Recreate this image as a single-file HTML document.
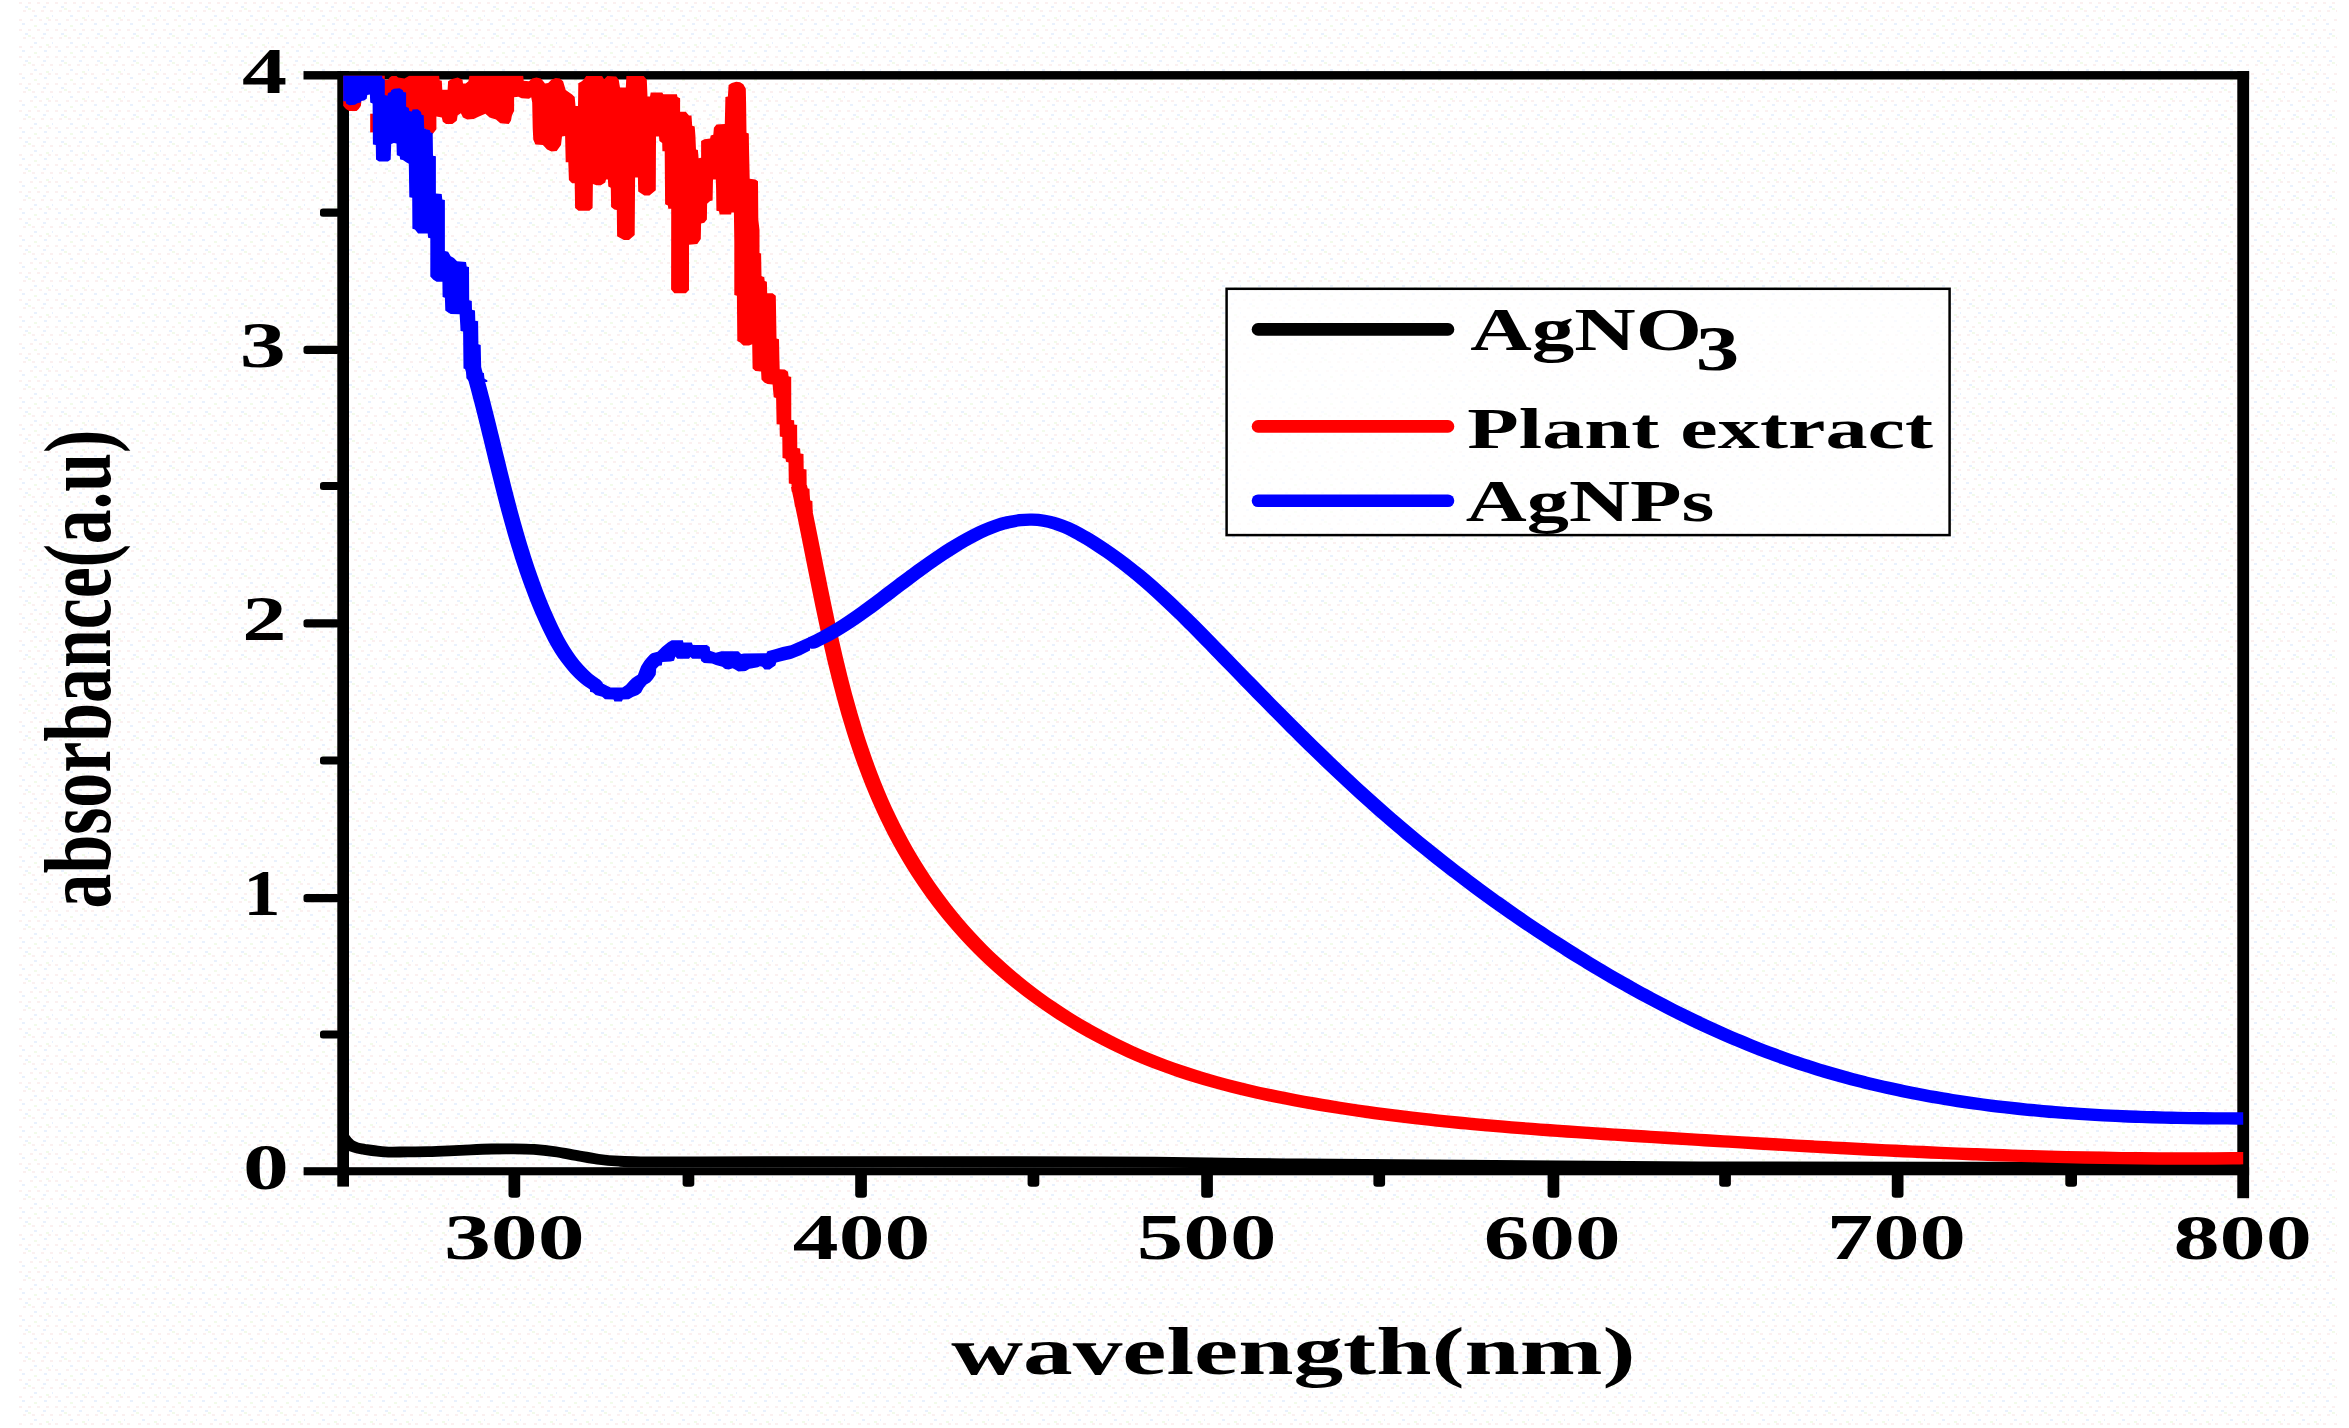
<!DOCTYPE html>
<html lang="en"><head><meta charset="utf-8"><title>UV-Vis absorbance</title>
<style>html,body{margin:0;padding:0;background:#fff}svg{display:block}text{font-family:"Liberation Serif","DejaVu Serif",serif;font-weight:bold;fill:#000}</style>
</head><body>
<svg width="2349" height="1428" viewBox="0 0 2349 1428">
<defs>
<pattern id="dither" x="17" y="0" width="36" height="27" patternUnits="userSpaceOnUse">
<rect x="2" y="2" width="3" height="2" fill="#fbf0f0"/>
<rect x="11" y="2" width="3" height="2" fill="#fbf0f0"/>
<rect x="20" y="2" width="3" height="2" fill="#fbf0f0"/>
<rect x="29" y="2" width="3" height="2" fill="#fbf0f0"/>
<rect x="6" y="10" width="3" height="2" fill="#fbf0f0"/>
<rect x="15" y="10" width="3" height="2" fill="#fbf0f0"/>
<rect x="24" y="10" width="3" height="2" fill="#fbf0f0"/>
<rect x="33" y="10" width="3" height="2" fill="#fbf0f0"/>
<rect x="2" y="19" width="3" height="2" fill="#fbf0f0"/>
<rect x="13" y="19" width="3" height="2" fill="#fbf0f0"/>
<rect x="22" y="19" width="3" height="2" fill="#fbf0f0"/>
<rect x="31" y="19" width="3" height="2" fill="#fbf0f0"/>
<rect x="8" y="6" width="3" height="2" fill="#e9f1fd"/>
<rect x="26" y="6" width="3" height="2" fill="#e9f1fd"/>
<rect x="17" y="15" width="3" height="2" fill="#e9f1fd"/>
<rect x="35" y="15" width="3" height="2" fill="#e9f1fd"/>
<rect x="5" y="23" width="3" height="2" fill="#e9f1fd"/>
<rect x="27" y="23" width="3" height="2" fill="#e9f1fd"/>
<rect x="11" y="8" width="3" height="2" fill="#f2fbea"/>
<rect x="29" y="17" width="3" height="2" fill="#f2fbea"/>
<rect x="17" y="25" width="3" height="2" fill="#f2fbea"/>
</pattern>
<clipPath id="frame"><rect x="343.2" y="75.5" width="1900" height="1101"/></clipPath>
</defs>
<rect width="2349" height="1428" fill="#ffffff"/>
<rect x="17" y="0" width="2320" height="1426" fill="url(#dither)"/>
<g fill="#000">
<rect x="337.3" y="71.1" width="11.7" height="1115.5"/>
<rect x="303.5" y="71.1" width="1945.6" height="8.4"/>
<rect x="2237.3" y="71.1" width="11.8" height="1127.1"/>
<rect x="303.6" y="1167.2" width="1945.5" height="8.1"/>
<rect x="303.5" y="345.7" width="36" height="8.2" rx="3" ry="2.5"/>
<rect x="303.5" y="619.3" width="36" height="8.2" rx="3" ry="2.5"/>
<rect x="303.5" y="894.1" width="36" height="8.2" rx="3" ry="2.5"/>
<rect x="320" y="208.6" width="20" height="8.2" rx="3" ry="2.5"/>
<rect x="320" y="481.9" width="20" height="8.2" rx="3" ry="2.5"/>
<rect x="320" y="756.4" width="20" height="8.2" rx="3" ry="2.5"/>
<rect x="320" y="1030.4" width="20" height="8.2" rx="3" ry="2.5"/>
<rect x="508.5" y="1171" width="11.7" height="26.8" rx="3.5" ry="3"/>
<rect x="855.2" y="1171" width="11.7" height="26.8" rx="3.5" ry="3"/>
<rect x="1201.2" y="1171" width="11.7" height="26.8" rx="3.5" ry="3"/>
<rect x="1547.6" y="1171" width="11.7" height="26.8" rx="3.5" ry="3"/>
<rect x="1891.8" y="1171" width="11.7" height="26.8" rx="3.5" ry="3"/>
<rect x="682.6" y="1171" width="11.7" height="15.7" rx="3.5" ry="3"/>
<rect x="1027.6" y="1171" width="11.7" height="15.7" rx="3.5" ry="3"/>
<rect x="1373.4" y="1171" width="11.7" height="15.7" rx="3.5" ry="3"/>
<rect x="1719.2" y="1171" width="11.7" height="15.7" rx="3.5" ry="3"/>
<rect x="2065.3" y="1171" width="11.7" height="15.7" rx="3.5" ry="3"/>
</g>
<g clip-path="url(#frame)">
<path transform="scale(1.3,1)" d="M261.54,1131.00C261.95,1132.17 262.85,1135.78 264.00,1138.00C265.15,1140.22 266.82,1142.70 268.46,1144.30C270.10,1145.90 271.94,1146.78 273.85,1147.60C275.76,1148.42 276.19,1148.48 279.92,1149.20C283.65,1149.92 290.78,1151.45 296.23,1151.90C301.68,1152.35 307.15,1151.93 312.62,1151.90C318.08,1151.87 323.54,1151.87 329.00,1151.70C334.46,1151.53 339.92,1151.22 345.38,1150.90C350.85,1150.58 356.31,1150.12 361.77,1149.80C367.23,1149.48 372.69,1149.17 378.15,1149.00C383.62,1148.83 389.09,1148.73 394.54,1148.80C399.99,1148.87 405.40,1148.92 410.85,1149.40C416.29,1149.88 421.77,1150.67 427.23,1151.70C432.69,1152.73 438.15,1154.35 443.62,1155.60C449.08,1156.85 454.54,1158.27 460.00,1159.20C465.46,1160.13 470.92,1160.77 476.38,1161.20C481.85,1161.63 482.42,1161.70 492.77,1161.80C503.12,1161.90 479.56,1161.80 538.46,1161.80C597.36,1161.80 769.23,1161.43 846.15,1161.80C923.08,1162.17 923.08,1163.17 1000.00,1164.00C1076.92,1164.83 1185.90,1166.30 1307.69,1166.80C1429.49,1167.30 1660.26,1166.97 1730.77,1167.00" fill="none" stroke="#000000" stroke-width="10.8" stroke-linejoin="round" stroke-linecap="butt"/>
<polygon points="343.0,75.5 384.8,75.5 384.8,79.7 388.0,79.7 389.6,77.6 391.7,76.0 396.5,76.0 398.1,77.6 404.5,78.6 409.3,75.8 439.1,75.8 439.6,80.2 441.8,80.8 442.3,89.8 447.6,89.8 448.1,81.3 451.3,79.2 457.7,77.6 462.5,79.7 463.0,83.4 465.7,83.6 468.4,81.3 469.4,75.8 523.2,75.8 523.7,80.8 529.0,81.3 532.2,78.6 536.5,77.6 540.7,78.6 542.9,80.8 545.0,83.6 548.2,82.9 551.4,79.7 555.6,78.1 559.9,78.6 563.1,81.3 565.7,90.0 572.1,94.5 574.7,97.0 575.5,106.0 578.0,106.0 578.3,83.2 581.1,81.7 583.6,79.8 586.2,76.0 602.1,76.0 604.1,79.2 607.3,76.0 616.2,76.6 618.7,79.8 620.0,87.5 625.8,87.5 626.4,76.0 643.7,76.0 646.8,79.8 647.5,96.4 650.0,96.4 650.7,92.6 662.2,92.6 663.4,94.2 676.9,94.2 677.5,97.0 680.1,98.3 680.1,111.7 685.8,111.7 689.0,115.6 691.5,115.6 692.2,125.8 694.7,126.4 695.4,135.4 696.0,149.4 697.9,150.0 698.6,158.3 701.1,157.7 701.1,141.1 704.3,139.2 710.1,138.5 710.7,135.4 713.3,134.7 713.9,127.7 716.5,124.5 724.8,123.9 725.4,97.0 727.9,96.4 728.6,84.9 731.8,83.0 736.2,81.7 740.1,82.3 743.3,84.3 745.8,88.7 746.1,103.4 746.5,132.8 748.8,133.4 749.0,148.1 749.7,178.8 755.4,179.4 758.0,181.3 758.3,219.6 759.5,230.0 759.5,253.0 761.1,253.6 761.5,276.0 764.3,277.3 764.7,281.1 766.9,281.7 767.2,293.2 772.6,293.2 775.8,295.8 776.5,338.6 779.0,339.2 779.4,359.0 779.7,369.2 784.8,369.5 788.0,371.8 788.6,376.2 791.2,376.9 791.3,419.9 794.1,420.3 794.3,424.6 797.1,425.0 797.3,448.1 800.1,448.5 800.5,453.6 803.5,454.1 803.7,469.0 806.5,469.5 806.7,488.2 809.5,488.7 809.9,500.6 812.4,501.1 812.7,512.0 797.9,512.0 797.5,507.0 794.8,506.6 794.5,492.1 791.7,491.7 791.5,484.0 788.8,483.5 788.5,462.6 786.0,461.8 785.5,458.8 782.5,457.9 782.3,437.0 779.8,436.6 779.6,424.6 776.6,424.2 776.1,398.1 773.7,397.3 772.6,384.5 767.5,383.9 764.3,382.6 761.5,379.4 761.1,371.5 755.4,371.1 752.6,368.6 752.2,344.3 749.0,345.6 743.3,345.6 740.1,342.4 737.3,341.1 736.9,295.8 734.3,295.1 734.3,242.0 733.9,212.6 731.5,212.6 731.1,214.5 719.6,214.5 719.0,211.3 716.4,210.7 716.1,189.6 715.8,179.4 713.0,179.4 712.6,200.5 710.1,201.1 707.1,203.7 706.9,219.6 704.3,222.8 701.1,223.5 700.8,238.9 697.3,244.0 689.0,244.7 689.0,290.0 685.8,293.2 674.3,293.2 671.1,289.4 671.2,208.8 668.3,208.8 667.9,205.6 665.1,204.3 664.7,151.3 662.4,151.3 662.2,143.0 659.4,141.1 659.0,136.6 656.0,136.6 655.8,190.3 649.4,195.6 644.3,195.6 638.2,191.5 637.9,177.5 635.1,177.5 634.7,235.0 629.0,240.1 623.9,240.1 620.7,238.2 617.1,236.2 616.8,210.1 614.3,209.4 611.1,206.9 610.8,187.7 608.3,186.4 607.9,179.4 606.0,179.4 605.3,182.6 600.9,185.2 596.4,185.2 592.9,183.9 592.6,208.1 589.4,210.7 578.5,210.7 575.1,208.1 574.7,183.2 572.1,183.2 568.9,180.0 568.3,162.2 565.7,162.2 565.1,136.0 562.0,136.6 561.0,145.1 556.7,151.0 551.4,151.5 547.1,149.4 542.9,145.1 535.4,144.6 533.3,139.8 532.7,128.1 532.2,102.6 531.2,97.2 529.0,98.8 521.6,98.3 518.4,96.7 514.1,97.2 514.1,111.1 512.0,115.3 510.9,120.7 508.8,123.9 500.3,123.3 496.0,119.6 489.6,117.5 485.4,113.7 479.0,116.4 473.7,119.1 467.3,119.6 463.0,117.5 460.9,113.2 457.7,115.3 456.7,120.7 452.4,123.9 446.0,123.9 442.8,121.7 441.8,117.5 436.4,116.4 436.4,129.2 432.7,134.0 428.0,131.0 420.0,125.0 395.0,125.0 380.0,100.0 375.0,92.0 363.0,92.0 361.5,100.0 360.9,105.8 358.7,109.0 356.6,111.1 349.2,111.1 346.0,109.0 343.0,105.8" fill="#ff0000"/>
<rect x="370.2" y="113.7" width="4" height="18.7" fill="#ff0000"/>
<path transform="scale(1.3,1)" d="M614.62,486.00C615.03,488.50 616.25,495.68 617.12,501.01C617.99,506.34 618.93,512.30 619.83,518.00C620.73,523.71 621.62,529.46 622.51,535.24C623.40,541.02 624.29,546.85 625.18,552.70C626.08,558.55 626.97,564.43 627.88,570.34C628.78,576.24 629.69,582.18 630.62,588.13C631.55,594.07 632.48,600.04 633.44,606.02C634.39,612.00 635.36,618.00 636.35,624.00C637.35,630.00 638.36,636.01 639.40,642.02C640.44,648.03 641.50,654.04 642.60,660.05C643.70,666.05 644.82,672.06 645.99,678.05C647.15,684.04 648.34,690.02 649.58,695.99C650.82,701.95 652.09,707.90 653.41,713.83C654.74,719.76 656.10,725.67 657.51,731.54C658.92,737.42 660.38,743.27 661.90,749.09C663.41,754.90 664.98,760.69 666.60,766.43C668.23,772.18 669.91,777.88 671.65,783.54C673.40,789.20 675.20,794.82 677.08,800.38C678.95,805.95 680.89,811.46 682.90,816.92C684.91,822.38 686.99,827.78 689.13,833.13C691.28,838.47 693.50,843.76 695.78,848.99C698.07,854.22 700.42,859.39 702.85,864.50C705.27,869.61 707.76,874.66 710.33,879.64C712.89,884.62 715.53,889.54 718.24,894.38C720.94,899.23 723.72,904.02 726.57,908.73C729.42,913.44 732.34,918.09 735.33,922.66C738.32,927.23 741.38,931.73 744.52,936.15C747.65,940.58 750.86,944.93 754.14,949.20C757.42,953.48 760.77,957.67 764.20,961.79C767.62,965.91 771.11,969.94 774.66,973.90C778.22,977.85 781.84,981.73 785.52,985.52C789.19,989.30 792.93,993.01 796.72,996.63C800.51,1000.24 804.35,1003.77 808.24,1007.21C812.13,1010.65 816.07,1014.00 820.06,1017.26C824.04,1020.52 828.07,1023.69 832.13,1026.76C836.19,1029.83 840.29,1032.81 844.43,1035.69C848.56,1038.57 852.73,1041.36 856.92,1044.04C861.12,1046.72 865.34,1049.31 869.59,1051.79C873.83,1054.27 878.10,1056.65 882.38,1058.93C886.67,1061.22 890.98,1063.39 895.30,1065.48C899.63,1067.58 903.97,1069.57 908.34,1071.49C912.70,1073.40 917.08,1075.23 921.48,1076.98C925.88,1078.73 930.29,1080.40 934.72,1082.01C939.15,1083.62 943.60,1085.15 948.07,1086.62C952.53,1088.09 957.01,1089.50 961.50,1090.85C966.00,1092.21 970.50,1093.50 975.03,1094.75C979.55,1096.00 984.08,1097.19 988.63,1098.35C993.18,1099.51 997.74,1100.62 1002.31,1101.70C1006.88,1102.78 1011.47,1103.82 1016.06,1104.83C1020.66,1105.84 1025.26,1106.82 1029.88,1107.76C1034.49,1108.70 1039.12,1109.61 1043.76,1110.49C1048.39,1111.37 1053.04,1112.22 1057.69,1113.04C1062.34,1113.86 1067.00,1114.65 1071.67,1115.42C1076.33,1116.19 1081.01,1116.92 1085.69,1117.64C1090.37,1118.35 1095.06,1119.04 1099.75,1119.70C1104.45,1120.37 1109.14,1121.01 1113.85,1121.63C1118.55,1122.25 1123.26,1122.85 1127.97,1123.43C1132.68,1124.01 1137.40,1124.57 1142.11,1125.11C1146.83,1125.66 1151.55,1126.18 1156.27,1126.69C1160.99,1127.20 1165.72,1127.70 1170.44,1128.18C1175.17,1128.66 1179.89,1129.12 1184.62,1129.58C1189.35,1130.03 1194.07,1130.47 1198.80,1130.91C1203.52,1131.34 1208.25,1131.76 1212.97,1132.18C1217.69,1132.59 1222.41,1132.99 1227.13,1133.39C1231.84,1133.79 1236.56,1134.19 1241.27,1134.58C1245.98,1134.96 1250.69,1135.35 1255.39,1135.73C1260.10,1136.11 1264.79,1136.49 1269.49,1136.86C1274.18,1137.24 1278.87,1137.62 1283.55,1137.99C1288.23,1138.37 1292.91,1138.74 1297.58,1139.12C1302.26,1139.49 1306.92,1139.86 1311.59,1140.23C1316.25,1140.60 1320.91,1140.97 1325.57,1141.33C1330.22,1141.70 1334.88,1142.06 1339.52,1142.42C1344.17,1142.78 1348.82,1143.14 1353.46,1143.50C1358.10,1143.85 1362.74,1144.20 1367.38,1144.55C1372.02,1144.90 1376.65,1145.25 1381.28,1145.59C1385.92,1145.93 1390.55,1146.26 1395.18,1146.60C1399.80,1146.93 1404.43,1147.26 1409.06,1147.58C1413.68,1147.91 1418.31,1148.23 1422.93,1148.54C1427.56,1148.86 1432.18,1149.17 1436.80,1149.47C1441.43,1149.78 1446.05,1150.08 1450.67,1150.37C1455.29,1150.66 1459.92,1150.95 1464.54,1151.23C1469.16,1151.52 1473.79,1151.79 1478.41,1152.06C1483.04,1152.33 1487.66,1152.59 1492.29,1152.85C1496.92,1153.10 1501.55,1153.35 1506.18,1153.60C1510.81,1153.84 1515.44,1154.07 1520.07,1154.30C1524.71,1154.53 1529.35,1154.74 1533.98,1154.96C1538.62,1155.17 1543.27,1155.37 1547.91,1155.57C1552.56,1155.76 1557.21,1155.95 1561.86,1156.12C1566.51,1156.30 1571.16,1156.47 1575.82,1156.63C1580.48,1156.79 1585.15,1156.94 1589.81,1157.08C1594.48,1157.22 1599.15,1157.35 1603.83,1157.48C1608.51,1157.60 1613.19,1157.71 1617.88,1157.81C1622.57,1157.91 1627.26,1158.00 1631.96,1158.08C1636.65,1158.16 1641.36,1158.23 1646.07,1158.29C1650.78,1158.35 1655.49,1158.40 1660.22,1158.43C1664.94,1158.47 1669.67,1158.49 1674.41,1158.50C1679.14,1158.52 1683.89,1158.52 1688.64,1158.51C1693.39,1158.49 1698.15,1158.47 1702.91,1158.43C1707.68,1158.40 1712.45,1158.35 1717.23,1158.29C1722.02,1158.22 1729.21,1158.10 1731.61,1158.06" fill="none" stroke="#ff0000" stroke-width="12.4" stroke-linejoin="round" stroke-linecap="butt"/>
<polygon points="343.0,75.5 382.2,75.5 382.2,78.1 384.8,79.7 384.8,95.1 387.5,95.7 388.0,93.0 390.7,91.9 391.2,90.3 393.9,88.7 399.7,88.2 402.9,90.3 403.4,91.9 406.1,92.5 406.1,106.8 408.8,107.9 409.3,111.1 412.0,111.6 412.5,109.5 417.8,109.2 421.0,112.1 421.5,114.8 423.7,115.3 424.2,128.1 426.3,129.2 430.0,130.2 430.6,132.4 432.7,132.9 433.0,155.8 435.9,156.3 435.9,193.6 441.7,194.1 442.3,199.4 444.9,200.0 444.9,251.1 448.1,251.7 450.7,256.2 453.9,258.1 457.1,261.3 466.0,261.9 466.7,266.4 469.0,267.0 469.2,300.3 471.8,300.9 472.0,309.8 475.0,310.5 475.3,320.7 478.1,321.3 478.4,344.3 480.7,345.0 481.3,372.4 483.9,373.0 484.5,378.8 487.3,380.3 487.3,382.0 469.8,382.0 466.4,378.2 466.0,369.2 463.5,368.6 463.1,331.5 460.5,330.9 460.3,325.8 459.6,314.3 450.7,314.0 448.1,312.4 445.3,310.5 444.9,297.7 442.6,297.1 442.4,281.7 436.6,281.7 433.4,279.8 430.3,276.6 430.3,238.3 428.1,237.7 427.7,233.5 418.1,233.5 414.9,229.4 412.4,228.7 412.2,197.8 409.3,197.3 408.8,163.8 406.1,162.2 402.9,160.0 400.2,159.5 399.7,156.3 396.8,155.3 396.5,143.5 393.9,143.0 391.2,144.1 390.7,159.5 388.0,161.6 379.0,161.6 376.0,159.5 375.8,145.1 372.9,144.6 372.6,103.6 370.2,102.6 369.9,94.6 367.3,95.1 366.7,98.8 364.1,100.4 361.1,101.0 360.9,102.6 357.9,103.1 355.0,104.7 349.2,105.2 346.0,103.6 346.0,101.5 343.0,101.0" fill="#0000ff"/>
<path transform="scale(1.3,1)" d="M363.29,365.30C363.71,367.24 365.01,373.08 365.85,376.99C366.68,380.91 367.50,384.84 368.32,388.79C369.13,392.73 369.92,396.70 370.71,400.67C371.50,404.64 372.28,408.63 373.06,412.63C373.83,416.62 374.59,420.63 375.36,424.65C376.12,428.67 376.88,432.70 377.63,436.73C378.39,440.76 379.15,444.80 379.90,448.85C380.66,452.89 381.41,456.94 382.18,461.00C382.94,465.05 383.70,469.11 384.47,473.17C385.24,477.22 386.02,481.28 386.81,485.34C387.59,489.40 388.38,493.46 389.19,497.52C390.00,501.57 390.81,505.63 391.65,509.68C392.48,513.72 393.32,517.77 394.18,521.81C395.05,525.85 395.92,529.88 396.82,533.90C397.72,537.93 398.64,541.94 399.58,545.95C400.52,549.96 401.48,553.95 402.46,557.94C403.45,561.92 404.45,565.89 405.49,569.85C406.53,573.81 407.59,577.75 408.68,581.68C409.78,585.61 410.90,589.52 412.06,593.42C413.21,597.31 414.40,601.19 415.62,605.05C416.84,608.91 418.09,612.75 419.39,616.57C420.69,620.38 422.01,624.19 423.40,627.93C424.79,631.68 426.21,635.40 427.72,639.03C429.24,642.66 430.80,646.24 432.47,649.70C434.14,653.15 435.88,656.54 437.74,659.78C439.60,663.01 441.55,666.15 443.64,669.11C445.73,672.08 447.92,674.91 450.27,677.55C452.62,680.19 456.48,683.70 457.73,684.93" fill="none" stroke="#0000ff" stroke-width="12.4" stroke-linejoin="round" stroke-linecap="round"/>
<polygon points="590.0,676.2 592.8,679.0 597.5,681.3 603.1,683.7 610.6,687.4 622.4,687.4 626.1,685.1 629.4,681.3 632.2,678.5 635.0,676.6 637.9,674.8 641.1,666.3 644.4,661.1 647.3,657.4 650.1,654.6 651.9,653.2 657.6,651.8 662.3,647.1 665.1,644.7 667.9,642.4 671.7,640.2 682.9,640.2 683.4,642.4 691.8,642.4 692.8,644.9 706.8,644.9 709.7,647.1 710.1,650.8 715.8,652.7 721.4,651.3 738.3,651.3 741.1,654.1 743.9,653.4 766.4,653.2 767.4,651.3 774.0,649.4 782.4,647.1 790.8,645.2 799.3,641.4 810.0,636.7 810.0,650.4 801.2,655.0 791.8,658.8 783.3,660.7 776.3,662.6 775.4,665.4 772.1,667.7 769.7,669.6 764.6,669.6 762.2,666.8 759.9,666.3 758.0,667.3 749.5,668.7 745.8,671.0 738.3,671.5 735.0,669.6 732.7,668.2 728.9,669.6 725.1,669.1 722.3,666.8 715.8,664.9 712.0,663.5 704.0,663.0 701.2,661.1 700.7,658.8 692.3,658.8 690.4,656.9 689.0,658.8 677.3,658.8 675.4,656.5 674.0,660.7 670.7,661.6 662.3,662.1 661.8,665.4 659.0,665.8 656.2,668.7 655.7,674.8 652.9,679.0 650.1,682.3 646.3,684.6 643.5,687.9 641.1,692.6 637.9,694.9 633.2,696.8 628.9,699.2 622.8,699.6 621.9,701.5 614.4,701.5 613.5,699.6 605.0,699.2 602.2,696.8 595.6,694.9 592.8,692.6 590.0,691.7" fill="#0000ff"/>
<path transform="scale(1.3,1)" d="M625.28,642.64C626.68,641.73 630.94,639.08 633.69,637.18C636.45,635.29 639.14,633.31 641.81,631.27C644.47,629.24 647.09,627.13 649.67,624.98C652.26,622.83 654.81,620.62 657.33,618.38C659.86,616.13 662.35,613.84 664.83,611.53C667.31,609.21 669.76,606.86 672.20,604.50C674.65,602.14 677.07,599.75 679.50,597.36C681.93,594.98 684.35,592.58 686.77,590.19C689.20,587.79 691.62,585.40 694.05,583.01C696.49,580.62 698.93,578.23 701.39,575.85C703.85,573.48 706.32,571.10 708.83,568.75C711.33,566.40 713.85,564.06 716.41,561.74C718.97,559.43 721.55,557.13 724.18,554.86C726.81,552.58 729.47,550.32 732.18,548.12C734.89,545.91 737.65,543.71 740.44,541.61C743.23,539.52 746.06,537.46 748.92,535.55C751.79,533.64 754.69,531.81 757.62,530.16C760.54,528.51 763.50,526.97 766.48,525.65C769.46,524.33 772.47,523.16 775.49,522.25C778.51,521.34 781.56,520.62 784.61,520.19C787.66,519.75 790.74,519.56 793.79,519.65C796.85,519.73 799.91,520.07 802.92,520.70C805.93,521.33 808.92,522.24 811.85,523.40C814.78,524.56 817.66,526.04 820.50,527.65C823.34,529.26 826.13,531.13 828.89,533.05C831.65,534.97 834.36,537.07 837.05,539.17C839.73,541.28 842.38,543.46 845.00,545.68C847.62,547.90 850.21,550.18 852.77,552.50C855.33,554.82 857.86,557.19 860.36,559.61C862.87,562.02 865.35,564.48 867.80,566.98C870.25,569.48 872.68,572.03 875.09,574.60C877.49,577.18 879.87,579.80 882.24,582.44C884.60,585.09 886.94,587.77 889.27,590.48C891.59,593.18 893.90,595.92 896.19,598.68C898.48,601.44 900.75,604.23 903.01,607.04C905.28,609.84 907.52,612.67 909.76,615.52C911.99,618.36 914.21,621.22 916.43,624.09C918.64,626.97 920.85,629.86 923.04,632.75C925.24,635.64 927.43,638.55 929.61,641.46C931.80,644.36 933.98,647.28 936.15,650.19C938.33,653.11 940.50,656.02 942.67,658.94C944.85,661.85 947.02,664.76 949.19,667.66C951.36,670.57 953.53,673.48 955.70,676.38C957.87,679.28 960.04,682.17 962.21,685.07C964.38,687.96 966.55,690.85 968.72,693.73C970.89,696.62 973.06,699.50 975.24,702.37C977.41,705.25 979.59,708.12 981.77,710.98C983.95,713.84 986.13,716.70 988.32,719.56C990.50,722.41 992.69,725.26 994.88,728.10C997.08,730.94 999.27,733.77 1001.47,736.60C1003.67,739.42 1005.87,742.24 1008.08,745.06C1010.29,747.87 1012.51,750.67 1014.73,753.47C1016.95,756.26 1019.17,759.05 1021.40,761.83C1023.63,764.61 1025.87,767.38 1028.11,770.15C1030.36,772.91 1032.61,775.66 1034.87,778.40C1037.12,781.15 1039.39,783.88 1041.66,786.60C1043.94,789.33 1046.22,792.04 1048.51,794.74C1050.80,797.45 1053.10,800.14 1055.40,802.82C1057.71,805.50 1060.03,808.17 1062.36,810.83C1064.68,813.49 1067.02,816.13 1069.36,818.77C1071.71,821.40 1074.06,824.03 1076.43,826.64C1078.79,829.25 1081.17,831.85 1083.55,834.44C1085.93,837.03 1088.33,839.60 1090.73,842.17C1093.13,844.73 1095.54,847.28 1097.96,849.82C1100.38,852.36 1102.81,854.89 1105.24,857.41C1107.68,859.92 1110.13,862.43 1112.58,864.92C1115.04,867.41 1117.50,869.89 1119.98,872.35C1122.45,874.82 1124.93,877.28 1127.42,879.72C1129.91,882.16 1132.41,884.59 1134.92,887.00C1137.42,889.42 1139.94,891.82 1142.46,894.21C1144.99,896.60 1147.52,898.98 1150.06,901.35C1152.60,903.71 1155.15,906.07 1157.71,908.40C1160.27,910.74 1162.83,913.07 1165.41,915.38C1167.98,917.70 1170.56,920.00 1173.15,922.28C1175.74,924.57 1178.34,926.84 1180.95,929.10C1183.55,931.36 1186.17,933.61 1188.79,935.84C1191.41,938.08 1194.04,940.30 1196.68,942.50C1199.31,944.71 1201.96,946.90 1204.61,949.08C1207.26,951.26 1209.92,953.42 1212.59,955.58C1215.26,957.73 1217.93,959.86 1220.62,961.99C1223.30,964.11 1225.99,966.22 1228.68,968.32C1231.38,970.41 1234.09,972.49 1236.80,974.55C1239.51,976.62 1242.23,978.66 1244.95,980.69C1247.68,982.73 1250.41,984.74 1253.15,986.74C1255.89,988.73 1258.64,990.71 1261.39,992.67C1264.14,994.63 1266.91,996.58 1269.67,998.50C1272.44,1000.42 1275.21,1002.33 1277.99,1004.21C1280.78,1006.10 1283.56,1007.96 1286.36,1009.81C1289.15,1011.65 1291.95,1013.47 1294.76,1015.27C1297.56,1017.07 1300.38,1018.86 1303.20,1020.61C1306.02,1022.37 1308.84,1024.11 1311.68,1025.82C1314.51,1027.53 1317.35,1029.22 1320.19,1030.88C1323.04,1032.55 1325.89,1034.19 1328.74,1035.80C1331.60,1037.42 1334.46,1039.01 1337.33,1040.57C1340.20,1042.14 1343.07,1043.68 1345.96,1045.19C1348.84,1046.70 1351.72,1048.19 1354.61,1049.65C1357.51,1051.11 1360.40,1052.54 1363.31,1053.94C1366.21,1055.35 1369.12,1056.72 1372.04,1058.07C1374.95,1059.41 1377.87,1060.73 1380.80,1062.02C1383.72,1063.31 1386.65,1064.57 1389.59,1065.80C1392.52,1067.03 1395.47,1068.24 1398.41,1069.42C1401.36,1070.59 1404.31,1071.74 1407.27,1072.87C1410.23,1073.99 1413.19,1075.09 1416.16,1076.16C1419.12,1077.23 1422.10,1078.27 1425.07,1079.29C1428.05,1080.31 1431.03,1081.31 1434.02,1082.28C1437.01,1083.24 1440.00,1084.19 1442.99,1085.11C1445.99,1086.03 1448.99,1086.92 1452.00,1087.80C1455.00,1088.67 1458.01,1089.52 1461.03,1090.34C1464.04,1091.17 1467.06,1091.97 1470.08,1092.75C1473.11,1093.53 1476.14,1094.28 1479.17,1095.02C1482.20,1095.75 1485.24,1096.47 1488.28,1097.16C1491.32,1097.85 1494.36,1098.52 1497.41,1099.17C1500.46,1099.82 1503.51,1100.45 1506.57,1101.06C1509.63,1101.67 1512.69,1102.26 1515.75,1102.83C1518.82,1103.40 1521.89,1103.95 1524.96,1104.48C1528.03,1105.01 1531.11,1105.52 1534.19,1106.01C1537.27,1106.51 1540.35,1106.98 1543.44,1107.44C1546.53,1107.90 1549.62,1108.34 1552.71,1108.76C1555.81,1109.19 1558.90,1109.59 1562.00,1109.98C1565.11,1110.37 1568.21,1110.74 1571.32,1111.10C1574.42,1111.46 1577.54,1111.80 1580.65,1112.12C1583.76,1112.45 1586.88,1112.76 1590.00,1113.05C1593.12,1113.35 1596.24,1113.63 1599.37,1113.90C1602.50,1114.16 1605.62,1114.42 1608.76,1114.66C1611.89,1114.89 1615.02,1115.12 1618.16,1115.33C1621.30,1115.54 1624.44,1115.74 1627.58,1115.93C1630.72,1116.12 1633.87,1116.29 1637.02,1116.46C1640.16,1116.62 1643.32,1116.77 1646.47,1116.91C1649.62,1117.05 1652.78,1117.18 1655.93,1117.30C1659.09,1117.42 1662.25,1117.52 1665.41,1117.62C1668.58,1117.72 1671.74,1117.81 1674.91,1117.89C1678.07,1117.96 1681.24,1118.03 1684.41,1118.09C1687.58,1118.15 1690.75,1118.21 1693.93,1118.25C1697.10,1118.29 1700.28,1118.33 1703.46,1118.36C1706.64,1118.38 1709.82,1118.40 1713.00,1118.42C1716.18,1118.43 1719.36,1118.44 1722.55,1118.44C1725.73,1118.44 1730.51,1118.42 1732.11,1118.42" fill="none" stroke="#0000ff" stroke-width="12.4" stroke-linejoin="round" stroke-linecap="round"/>
</g>
<rect x="1226.6" y="288.8" width="723" height="246.3" fill="#ffffff" fill-opacity="0.7" stroke="#000" stroke-width="2.5"/>
<line x1="1258" y1="329.4" x2="1448" y2="329.4" stroke="#000000" stroke-width="12.6" stroke-linecap="round"/>
<line x1="1258" y1="426.4" x2="1448" y2="426.4" stroke="#ff0000" stroke-width="12.6" stroke-linecap="round"/>
<line x1="1258" y1="500.8" x2="1448" y2="500.8" stroke="#0000ff" stroke-width="12.6" stroke-linecap="round"/>
<text transform="matrix(0.85141 0 0 0.61178 1470.15 349.80)" font-size="100">AgNO<tspan x="265.0" y="33.3" font-size="102.3">3</tspan></text>
<text transform="matrix(0.84289 0 0 0.57698 1467.32 447.50)" font-size="100" >Plant extract</text>
<text transform="matrix(0.84433 0 0 0.59242 1465.76 521.30)" font-size="100" >AgNPs</text>
<text transform="matrix(0.90213 0 0 0.65247 242.07 93.20)" font-size="100" >4</text>
<text transform="matrix(0.92164 0 0 0.66022 239.74 366.64)" font-size="100" >3</text>
<text transform="matrix(0.88434 0 0 0.63547 242.14 640.00)" font-size="100" >2</text>
<text transform="matrix(0.74558 0 0 0.66364 243.24 915.00)" font-size="100" >1</text>
<text transform="matrix(0.91765 0 0 0.64741 242.96 1189.05)" font-size="100" >0</text>
<text transform="matrix(0.93895 0 0 0.65185 443.88 1258.75)" font-size="100" >300</text>
<text transform="matrix(0.91586 0 0 0.65185 792.86 1258.75)" font-size="100" >400</text>
<text transform="matrix(0.93146 0 0 0.65185 1136.77 1258.75)" font-size="100" >500</text>
<text transform="matrix(0.91349 0 0 0.64444 1483.70 1258.86)" font-size="100" >600</text>
<text transform="matrix(0.92883 0 0 0.64444 1826.76 1258.86)" font-size="100" >700</text>
<text transform="matrix(0.92448 0 0 0.64444 2173.40 1258.86)" font-size="100" >800</text>
<text transform="matrix(0.99364 0 0 0.66619 951.25 1373.50)" font-size="100" >wavelength(nm)</text>
<text transform="translate(109.7 908.47) rotate(-90) scale(0.69772 0.94676)" font-size="100">absorbance(a.u)</text>
</svg></body></html>
